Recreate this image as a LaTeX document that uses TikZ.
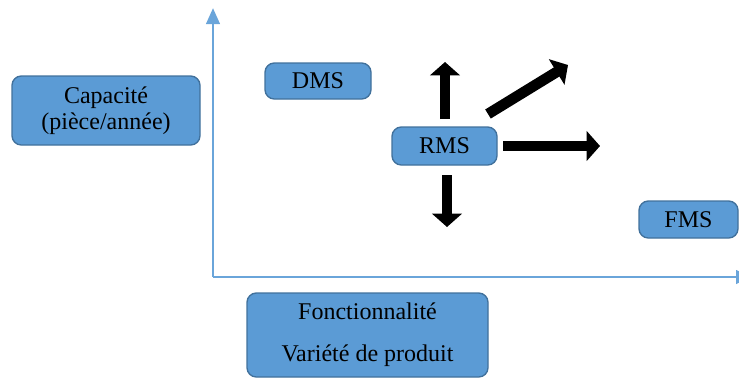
\documentclass[tikz,border=0pt]{standalone}
\usepackage{fontspec}
\setmainfont{Liberation Serif}
\usetikzlibrary{arrows.meta}
\definecolor{boxfill}{HTML}{5B9BD5}
\definecolor{boxedge}{HTML}{41719C}
\definecolor{axisblue}{HTML}{6AA5DA}
\newdimen\pxu \pxu=0.75pt
\begin{document}
\begin{tikzpicture}[x=0.75pt, y=-0.75pt,
  box/.style={draw=boxedge, line width=1pt, fill=boxfill, rounded corners=7pt,
    inner sep=0pt, align=center, font=\fontsize{18}{19.5}\selectfont},
  blockarrow/.style={line width=8pt, -{Triangle[width=22pt, length=10pt]}},
  axisline/.style={draw=axisblue, line width=2.2pt, -{Triangle[width=10pt, length=12pt]}}]
\useasboundingbox (0,0) rectangle (739,379);

% axes
\coordinate (origin) at (213,277);
\coordinate (ytop) at (213,8);
\coordinate (xend) at (752,277);
\draw[axisline] (origin) -- (ytop);
\draw[axisline] (origin) -- (xend);

% boxes
\node[box, minimum width=188\pxu, minimum height=69\pxu] (cap) at (106,110.5)
  {Capacité\\(pièce/année)};
\node[box, minimum width=106\pxu, minimum height=36\pxu] (dms) at (318,81) {DMS};
\node[box, minimum width=105\pxu, minimum height=38\pxu] (rms) at (444.5,146) {RMS};
\node[box, minimum width=99\pxu, minimum height=37\pxu] (fms) at (688.5,219.5) {FMS};
\node[box, minimum width=241\pxu, minimum height=84\pxu,
  font=\fontsize{18}{31.5}\selectfont] (fonc) at (367.5,335)
  {Fonctionnalité\\Variété de produit};

% block arrows leaving RMS
\coordinate (upA) at (445,119);   \coordinate (upB) at (445,62);
\coordinate (dnA) at (447,175);   \coordinate (dnB) at (447,227);
\coordinate (rtA) at (503,146);   \coordinate (rtB) at (600,146);
\coordinate (dgA) at (488,114);   \coordinate (dgB) at (568,65);
\draw[blockarrow] (upA) -- (upB);
\draw[blockarrow] (dnA) -- (dnB);
\draw[blockarrow] (rtA) -- (rtB);
\draw[blockarrow] (dgA) -- (dgB);
\end{tikzpicture}
\end{document}
